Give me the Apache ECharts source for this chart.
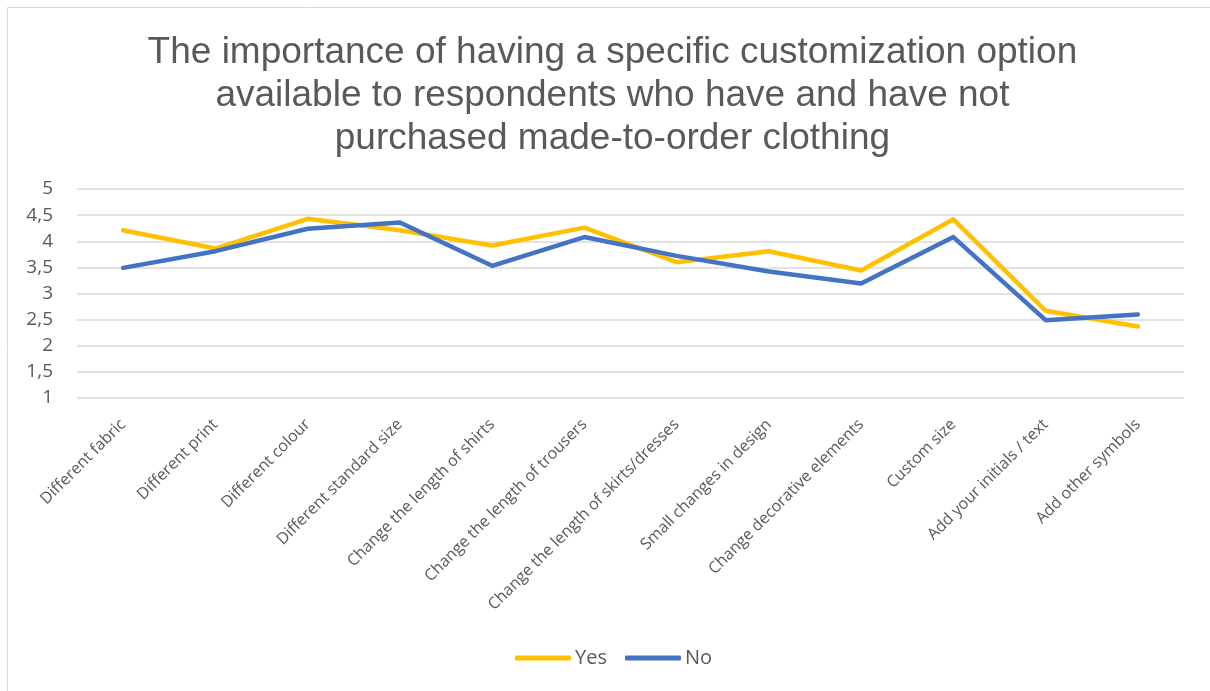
<!DOCTYPE html>
<html>
<head>
<meta charset="utf-8">
<script src="https://cdn.jsdelivr.net/npm/echarts@6/dist/echarts.min.js"></script>
<style>
  html, body { margin: 0; padding: 0; background: #ffffff; }
  #chart { width: 1210px; height: 691px; }
</style>
</head>
<body>
<div id="chart"></div>
<script>
// Customization options asked about in the survey
const categories = [
  'Different fabric',
  'Different print',
  'Different colour',
  'Different standard size',
  'Change the length of shirts',
  'Change the length of trousers',
  'Change the length of skirts/dresses',
  'Small changes in design',
  'Change decorative elements',
  'Custom size',
  'Add your initials / text',
  'Add other symbols'
];

// Mean importance among respondents who have purchased made-to-order clothing
const yesValues = [4.21, 3.86, 4.43, 4.21, 3.92, 4.26, 3.60, 3.81, 3.44, 4.42, 2.67, 2.37];
// Mean importance among respondents who have not
const noValues  = [3.49, 3.81, 4.24, 4.36, 3.53, 4.08, 3.72, 3.42, 3.19, 4.08, 2.49, 2.60];

const yTicks = { min: 1, max: 5, interval: 0.5 };

const chart = echarts.init(document.getElementById('chart'), null, { renderer: 'canvas' });

chart.setOption({
  backgroundColor: '#ffffff',
  animation: false,
  graphic: [{
    type: 'rect',
    shape: { x: 7.5, y: 7.5, width: 1220, height: 700 },
    style: { fill: 'none', stroke: '#d9d9d9', lineWidth: 1 },
    silent: true
  }],
  title: {
    text: 'The importance of having a specific customization option\navailable to respondents who have and have not\npurchased made-to-order clothing',
    left: '50.2%',
    top: 26,
    textAlign: 'center',
    textStyle: {
      fontFamily: 'Liberation Sans, Arial, sans-serif',
      fontSize: 37,
      fontWeight: 'normal',
      color: '#595959',
      lineHeight: 43
    }
  },
  legend: {
    data: ['Yes', 'No'],
    left: 510,
    top: 643,
    itemWidth: 56,
    itemHeight: 5,
    itemGap: 18,
    icon: 'roundRect',
    textStyle: {
      fontFamily: 'Open Sans, sans-serif',
      fontSize: 20,
      color: '#595959',
      padding: [0, 0, 0, -1]
    }
  },
  grid: {
    left: 77,
    right: 26,
    top: 189,
    bottom: 293,
    containLabel: false
  },
  xAxis: {
    type: 'category',
    data: categories,
    boundaryGap: true,
    axisLine: { show: false },
    axisTick: { show: false },
    axisLabel: {
      rotate: 45,
      interval: 0,
      margin: 24,
      fontFamily: 'Open Sans, sans-serif',
      fontSize: 16,
      color: '#595959'
    }
  },
  yAxis: {
    type: 'value',
    min: yTicks.min,
    max: yTicks.max,
    interval: yTicks.interval,
    axisLine: { show: false },
    axisTick: { show: false },
    splitLine: { lineStyle: { color: '#d9d9d9', width: 1.5 } },
    axisLabel: {
      margin: 24,
      fontFamily: 'Open Sans, sans-serif',
      fontSize: 19,
      color: '#595959',
      formatter: v => String(v).replace('.', ',')
    }
  },
  series: [
    {
      name: 'Yes',
      type: 'line',
      data: yesValues,
      symbol: 'none',
      color: '#FFC000',
      lineStyle: { width: 4.5, color: '#FFC000', cap: 'round', join: 'round' },
      z: 2
    },
    {
      name: 'No',
      type: 'line',
      data: noValues,
      symbol: 'none',
      color: '#4472C4',
      lineStyle: { width: 4.5, color: '#4472C4', cap: 'round', join: 'round' },
      z: 3
    }
  ]
});
</script>
</body>
</html>
